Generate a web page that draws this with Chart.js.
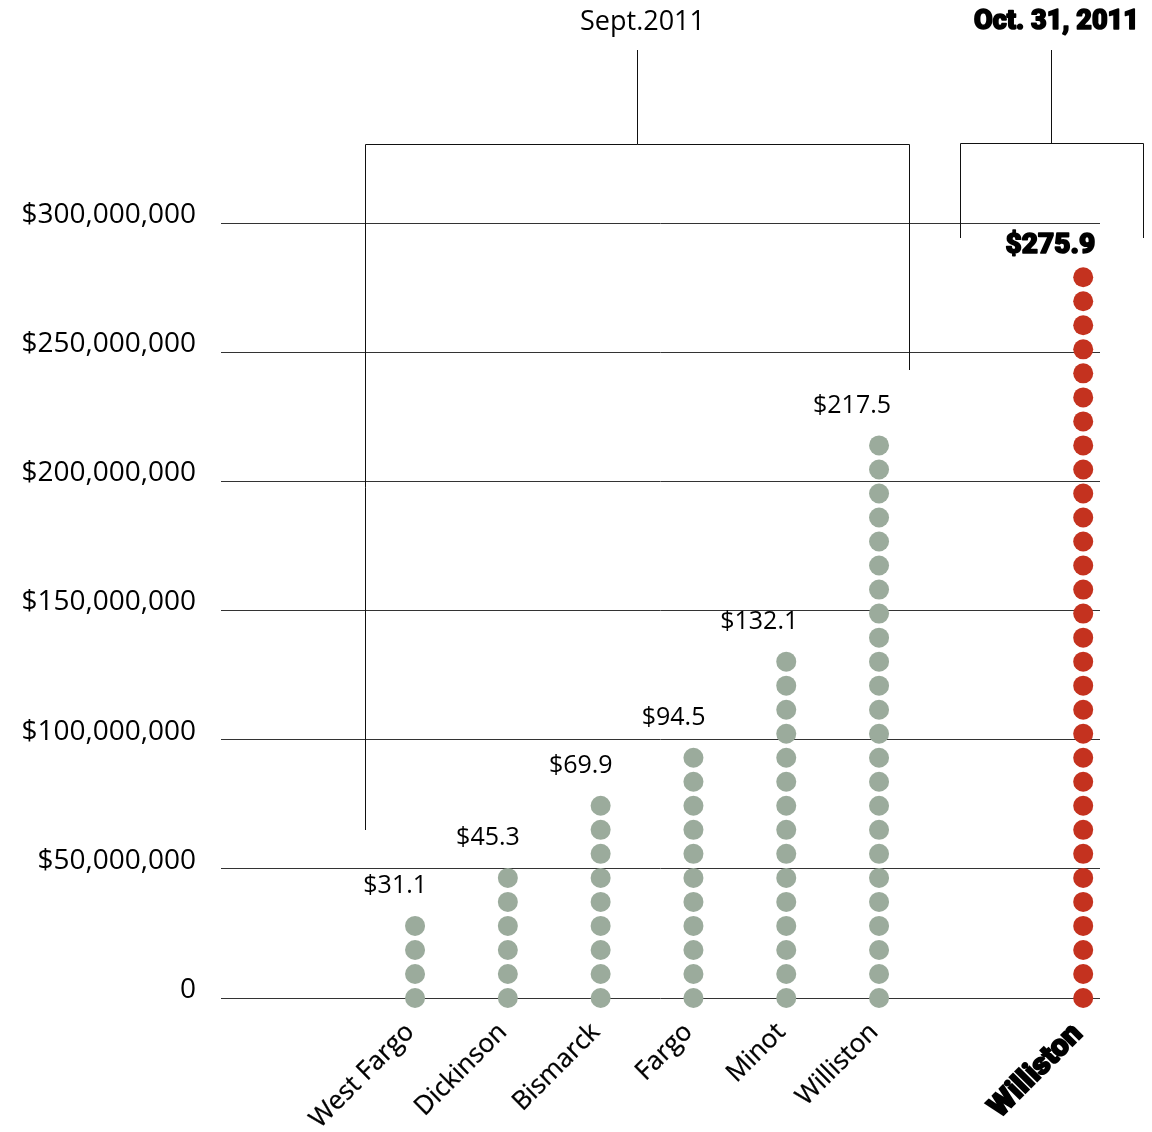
<!DOCTYPE html>
<html>
<head>
<meta charset="utf-8">
<script src="https://cdn.jsdelivr.net/npm/chart.js@4.4.0/dist/chart.umd.min.js"></script>
<style>
  body { margin: 0; background: #fff; }
</style>
</head>
<body>
<canvas id="taxes" width="1152" height="1132"></canvas>
<script>
// taxable sales, millions of dollars
const septCities = ['West Fargo', 'Dickinson', 'Bismarck', 'Fargo', 'Minot', 'Williston'];
const septValues = [31.1, 45.3, 69.9, 94.5, 132.1, 217.5];
const septDots = [4, 6, 9, 11, 15, 24];

const octCities = ['Williston'];
const octValues = [275.9];
const octDots = [31];

const yTicks = [0, 50000000, 100000000, 150000000, 200000000, 250000000, 300000000];

const FONT = '"Open Sans", "Noto Sans", sans-serif';
const HEAVY = 'Roboto, "Open Sans", sans-serif';
const GREY = 'rgb(155,171,156)';
const RED = 'rgb(196,50,31)';
const DOT_STEP = 9.3e6; // each dot is roughly $9.3M tall
const OCT_GAP = 2.2;    // room between the two groups, in columns

const septSlots = septCities.map((c, i) => i);
const octSlots = octCities.map((c, i) => septCities.length - 1 + OCT_GAP + i);
const allSlots = septSlots.concat(octSlots);
const allCities = septCities.concat(octCities);

function stack(slots, dots) {
  let pts = [];
  slots.forEach((s, i) => {
    for (let k = 0; k < dots[i]; k++) pts.push({x: s, y: k * DOT_STEP});
  });
  return pts;
}

const money = v => v === 0 ? '0' : '$' + v.toLocaleString('en-US');

// heavy text: bold face plus a thin stroke to thicken it
function heavyText(c, txt, x, y) {
  c.lineWidth = 1.6;
  c.strokeStyle = '#000';
  c.lineJoin = 'round';
  c.strokeText(txt, x, y);
  c.fillText(txt, x, y);
}

// value labels above each column
const valueLabels = {
  id: 'valueLabels',
  afterDatasetsDraw(chart) {
    const c = chart.ctx, xs = chart.scales.x, ys = chart.scales.y;
    const put = (slots, vals, dots, bold) => {
      slots.forEach((s, i) => {
        const x = xs.getPixelForValue(s) + 12;
        const y = ys.getPixelForValue((dots[i] - 1) * DOT_STEP) - (bold ? 31 : 40);
        c.save();
        c.fillStyle = '#000';
        c.textAlign = 'right';
        c.textBaseline = 'middle';
        const txt = '$' + vals[i].toFixed(1);
        if (bold) {
          c.font = '900 28px ' + HEAVY;
          heavyText(c, txt, x, y);
        } else {
          c.font = '25px ' + FONT;
          c.fillText(txt, x, y);
        }
        c.restore();
      });
    };
    put(septSlots, septValues, septDots, false);
    put(octSlots, octValues, octDots, true);
  }
};

// brackets and the two date headings
const brackets = {
  id: 'brackets',
  afterDraw(chart) {
    const c = chart.ctx, xs = chart.scales.x;
    const line = (pts) => {
      c.beginPath();
      pts.forEach((p, i) => i ? c.lineTo(p[0], p[1]) : c.moveTo(p[0], p[1]));
      c.stroke();
    };
    c.save();
    c.strokeStyle = '#111';
    c.lineWidth = 1;

    const l1 = Math.round(xs.getPixelForValue(septSlots[0]) - 50) + 0.5;
    const r1 = Math.round(xs.getPixelForValue(septSlots[septSlots.length - 1]) + 30) + 0.5;
    const m1 = Math.round((l1 + r1) / 2) - 0.5;
    line([[l1, 830], [l1, 144.5], [r1, 144.5], [r1, 370]]);
    line([[m1, 50], [m1, 144.5]]);

    const l2 = Math.round(xs.getPixelForValue(octSlots[0]) - 123) + 0.5;
    const r2 = Math.round(xs.getPixelForValue(octSlots[0]) + 60) + 0.5;
    const m2 = Math.round((l2 + r2) / 2) - 0.5;
    line([[l2, 238], [l2, 143.5], [r2, 143.5], [r2, 238]]);
    line([[m2, 50], [m2, 143.5]]);

    c.fillStyle = '#000';
    c.textAlign = 'center';
    c.textBaseline = 'middle';
    c.font = '27px ' + FONT;
    c.fillText('Sept.2011', m1 + 5, 22);
    c.font = '900 27px ' + HEAVY;
    heavyText(c, 'Oct. 31, 2011', m2 + 5, 22);
    c.restore();
  }
};

const lastTick = allSlots.length - 1;

new Chart(document.getElementById('taxes'), {
  type: 'scatter',
  data: {
    datasets: [{
      label: 'Sept. 2011',
      data: stack(septSlots, septDots),
      backgroundColor: GREY,
      borderWidth: 0,
      pointRadius: 10,
      clip: false
    }, {
      label: 'Oct. 31, 2011',
      data: stack(octSlots, octDots),
      backgroundColor: RED,
      borderWidth: 0,
      pointRadius: 10,
      clip: false
    }]
  },
  options: {
    responsive: false,
    animation: false,
    layout: { padding: { top: 223, right: 52, left: 0, bottom: 0 } },
    plugins: { legend: { display: false }, tooltip: { enabled: false } },
    scales: {
      x: {
        type: 'linear',
        min: -2.091,
        max: 7.381,
        grid: { display: false },
        border: { display: false },
        afterBuildTicks: s => { s.ticks = allSlots.map(v => ({value: v})); },
        afterFit: s => { s.height = 134; },
        ticks: {
          minRotation: 45,
          maxRotation: 45,
          padding: 11,
          labelOffset: -5,
          color: '#000',
          textStrokeColor: '#000',
          textStrokeWidth: ctx => ctx.index === lastTick ? 1.8 : 0.3,
          font: ctx => ctx.index === lastTick
            ? {family: HEAVY, size: 30, weight: 900}
            : {family: FONT, size: 26},
          callback: (v, i) => allCities[i]
        }
      },
      y: {
        min: 0,
        max: 300000000,
        afterBuildTicks: s => { s.ticks = yTicks.map(v => ({value: v})); },
        afterFit: s => { s.width = 221; },
        grid: { color: '#333', lineWidth: 1, drawTicks: false },
        border: { display: false },
        ticks: {
          padding: 25,
          labelOffset: -8,
          color: '#000',
          font: {family: FONT, size: 28},
          callback: v => money(v)
        }
      }
    }
  },
  plugins: [valueLabels, brackets]
});
</script>
</body>
</html>
